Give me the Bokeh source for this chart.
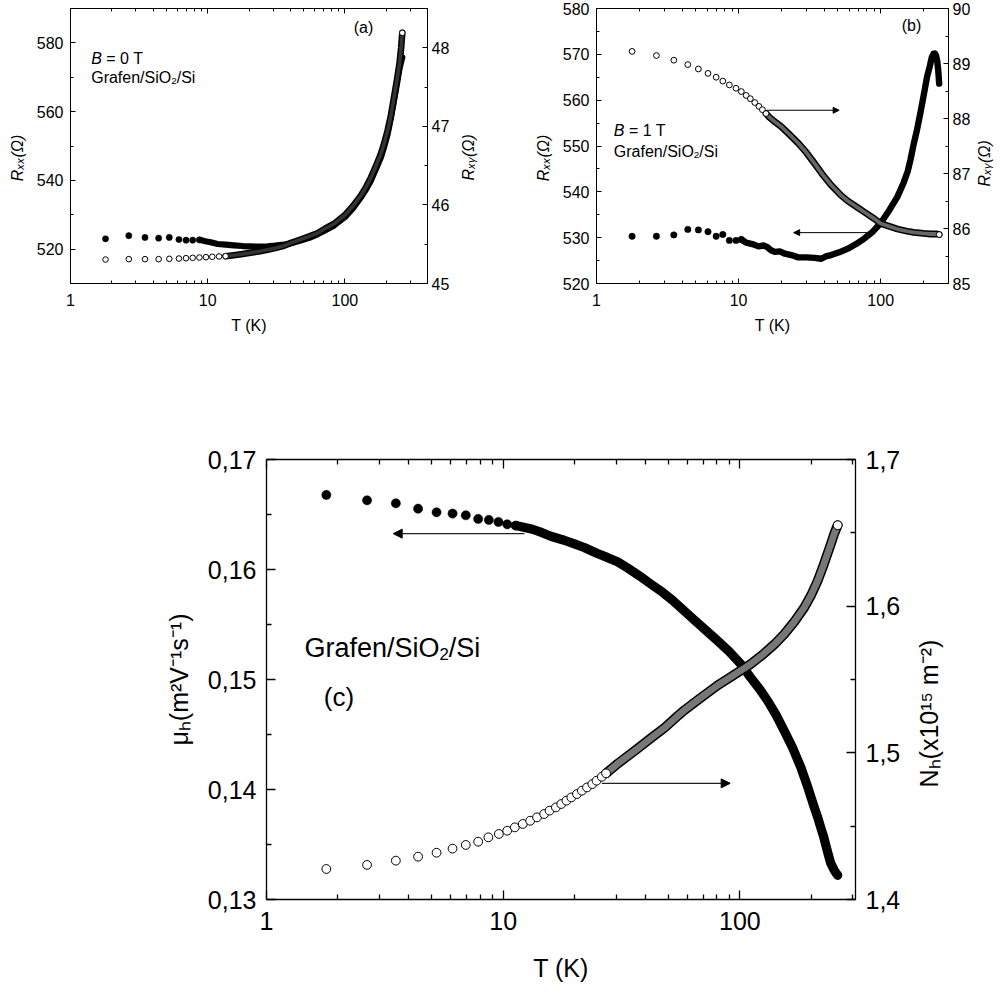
import math
from bokeh.plotting import figure
from bokeh.models import (Range1d, LinearAxis, LogAxis, FixedTicker, CustomJSTickFormatter,
                          Label, Arrow, NormalHead)
from bokeh.layouts import column, row
from bokeh.embed import file_html
from bokeh.resources import INLINE

FONT = "Liberation Sans"

# ---------------- tick values and axis titles ----------------
X_TICKS = [1, 10, 100]
X_MINOR = [2, 3, 4, 5, 6, 7, 8, 9, 20, 30, 40, 50, 60, 70, 80, 90, 200, 300, 400]
X_LABELS = ["1", "10", "100"]
A_LEFT_TICKS = [520, 540, 560, 580]
A_LEFT_MINOR = [510, 530, 550, 570, 590]
A_RIGHT_TICKS = [45, 46, 47, 48]
A_RIGHT_MINOR = [45.5, 46.5, 47.5]
B_LEFT_TICKS = [520, 530, 540, 550, 560, 570, 580]
B_LEFT_MINOR = [525, 535, 545, 555, 565, 575]
B_RIGHT_TICKS = [85, 86, 87, 88, 89, 90]
B_RIGHT_MINOR = [85.5, 86.5, 87.5, 88.5, 89.5]
C_LEFT_TICKS = [0.13, 0.14, 0.15, 0.16, 0.17]
C_LEFT_MINOR = [0.135, 0.145, 0.155, 0.165]
C_RIGHT_TICKS = [1.4, 1.5, 1.6, 1.7]
C_RIGHT_MINOR = [1.45, 1.55, 1.65]

X_TITLE = "T (K)"
RXX_TITLE = "Rₓₓ(Ω)"
RXY_TITLE = "Rₓᵧ(Ω)"
MU_TITLE = "μₕ(m²V⁻¹s⁻¹)"
NH_TITLE = "Nₕ(x10¹⁵ m⁻²)"

# ---------------- panel (a): B = 0 T ----------------
A_T_XX_PTS = [1.80, 2.66, 3.49, 4.39, 5.25, 6.17, 6.95, 7.77, 8.70]
A_RXX_PTS = [523.0, 523.9, 523.4, 523.2, 523.4, 522.8, 522.6, 522.6, 522.7]
A_T_XX_BAND = [8.7, 9.6, 10.5, 11.8, 13.5, 15.5, 18.0, 20.5, 24.0, 27.3, 31.0, 36.0, 41.0, 47.5,
               55.0, 63.0, 72.0, 83.5, 100, 115, 131, 143, 155, 168, 183, 194, 205, 216, 228,
               240, 250, 257, 262]
A_RXX_BAND = [522.7, 522.3, 522.0, 521.5, 521.3, 521.1, 520.9, 520.8, 520.7, 520.8, 521.0, 521.3,
              521.8, 522.5, 523.3, 524.3, 525.5, 526.9, 529.3, 532.0, 535.1, 537.5, 540.0, 543.2,
              546.7, 550.0, 553.5, 558.0, 563.2, 568.3, 572.5, 574.5, 575.8]
A_T_XY_PTS = [1.80, 2.66, 3.49, 4.39, 5.25, 6.17, 6.95, 7.77, 8.70, 9.72, 10.8, 12.1, 13.5]
A_RXY_PTS = [45.305, 45.31, 45.31, 45.31, 45.314, 45.318, 45.322, 45.327, 45.331, 45.335, 45.34,
             45.344, 45.348]
A_T_XY_BAND = [13.5, 15.5, 18.0, 20.5, 24.0, 27.3, 31.0, 36.0, 41.0, 47.5, 55.0, 63.0, 72.0, 83.5,
               100, 115, 131, 143, 155, 168, 183, 194, 205, 216, 228, 240, 250, 257, 262]
A_RXY_BAND = [45.348, 45.36, 45.375, 45.39, 45.41, 45.43, 45.45, 45.48, 45.52, 45.56, 45.60, 45.64,
              45.70, 45.76, 45.87, 45.99, 46.12, 46.23, 46.35, 46.49, 46.65, 46.79, 46.95, 47.13,
              47.37, 47.60, 47.80, 48.00, 48.19]

# ---------------- panel (b): B = 1 T ----------------
B_T_XX_PTS = [1.78, 2.64, 3.50, 4.39, 5.21, 6.09, 6.95, 7.74, 8.61, 9.59, 10.45]
B_RXX_PTS = [530.3, 530.3, 530.6, 531.8, 531.7, 531.3, 530.3, 530.7, 529.4, 529.4, 529.6]
B_T_XX_BAND = [10.45, 11.3, 12.5, 13.8, 15.0, 15.8, 17.0, 18.0, 19.5, 21.2, 23.5, 26.3, 30.0, 34.3,
               38.2, 41.0, 44.8, 51.0, 58.7, 67.0, 76.6, 88.0, 100, 115, 131, 145, 155, 162, 171,
               180, 190, 200, 212, 222, 229, 235, 240, 245, 250, 254, 258]
B_RXX_BAND = [529.6, 528.9, 528.6, 528.1, 528.3, 528.0, 527.2, 526.9, 527.0, 526.5, 526.2, 525.7,
              525.7, 525.6, 525.4, 525.9, 526.2, 526.8, 527.6, 528.6, 529.8, 531.3, 533.2, 536.0,
              538.9, 542.0, 544.5, 547.0, 550.5, 553.5, 557.1, 560.8, 565.1, 567.5, 569.4, 570.1,
              570.2, 569.8, 568.5, 566.5, 563.6]
B_T_XY_PTS = [1.78, 2.64, 3.50, 4.39, 5.21, 6.09, 6.95, 7.74, 8.61, 9.59, 10.45, 11.3, 12.1, 13.0,
              13.9, 14.7, 15.6]
B_RXY_PTS = [89.22, 89.145, 89.06, 88.98, 88.90, 88.82, 88.75, 88.68, 88.61, 88.55, 88.49, 88.42,
             88.36, 88.29, 88.22, 88.16, 88.09]
B_T_XY_BAND = [15.6, 16.5, 18.0, 20.0, 23.0, 26.3, 30.0, 34.3, 39.0, 44.8, 52.7, 58.7, 68.9, 76.6,
               89.9, 100, 117.5, 131, 153.8, 171, 201, 224, 249, 258]
B_RXY_BAND = [88.09, 88.02, 87.94, 87.85, 87.70, 87.55, 87.38, 87.18, 86.98, 86.79, 86.60, 86.50,
              86.38, 86.30, 86.18, 86.09, 86.03, 85.99, 85.95, 85.93, 85.91, 85.90, 85.90, 85.89]

# ---------------- panel (c): mobility and carrier density ----------------
C_T_MU_PTS = [1.79, 2.66, 3.52, 4.37, 5.23, 6.11, 6.95, 7.84, 8.70, 9.55, 10.4, 11.3]
C_MU_PTS = [0.16678, 0.16629, 0.16602, 0.16553, 0.16520, 0.16508, 0.16493, 0.16460, 0.16451,
            0.16432, 0.16411, 0.16399]
C_T_MU_BAND = [11.3, 12.2, 13.3, 14.6, 16.0, 18.1, 20.0, 22.0, 25.0, 27.5, 30.4, 33.5, 37.5, 42.1,
               47.0, 52.0, 58.2, 65.0, 72.0, 80.5, 90.0, 101, 111, 121, 131, 142, 154, 167, 181,
               193, 206, 213, 220, 226, 231, 237, 242, 250, 255, 259]
C_MU_BAND = [0.16399, 0.16385, 0.16366, 0.16335, 0.16300, 0.16266, 0.16233, 0.16200, 0.16145,
             0.16110, 0.16070, 0.16015, 0.15945, 0.15867, 0.15795, 0.15720, 0.15624, 0.15530,
             0.15445, 0.15352, 0.15255, 0.15140, 0.15018, 0.14915, 0.14807, 0.14680, 0.14534,
             0.14380, 0.14201, 0.14030, 0.13840, 0.13750, 0.13650, 0.13570, 0.13490, 0.13400,
             0.13330, 0.13270, 0.13240, 0.13220]
C_T_NH_PTS = [1.79, 2.66, 3.52, 4.37, 5.23, 6.11, 6.95, 7.84, 8.66, 9.59, 10.4, 11.2, 12.1, 13.0,
              13.9, 14.9, 15.7, 16.7, 17.6, 18.5, 19.4, 20.5, 21.5, 22.6, 23.8, 24.8, 26.1, 27.2]
C_NH_PTS = [1.4208, 1.4236, 1.4265, 1.4292, 1.4319, 1.4347, 1.4372, 1.4394, 1.4424, 1.4447,
            1.4469, 1.4492, 1.4515, 1.4537, 1.4560, 1.4583, 1.4606, 1.4628, 1.4651, 1.4674,
            1.4696, 1.4719, 1.4742, 1.4764, 1.4787, 1.4810, 1.4837, 1.4860]
C_T_NH_BAND = [27.2, 30.4, 36.7, 42.1, 48.0, 54.9, 58.2, 67.0, 80.5, 92.0, 104, 111, 125, 140,
               154, 170, 187, 200, 213, 224, 235, 243, 250, 255, 259]
C_NH_BAND = [1.4860, 1.4925, 1.5025, 1.5100, 1.5170, 1.5255, 1.5290, 1.5365, 1.5460, 1.5520,
             1.5575, 1.5605, 1.5670, 1.5740, 1.5809, 1.5895, 1.5990, 1.6075, 1.6172, 1.6265,
             1.6361, 1.6430, 1.6490, 1.6525, 1.6552]

# ---------------- helpers ----------------
W = {' ': 278, '(': 333, ')': 333, '/': 278, ',': 278, '=': 584, '-': 333, '.': 278,
     'B': 667, 'G': 778, 'H': 722, 'K': 667, 'N': 722, 'O': 778, 'R': 722, 'S': 667, 'T': 611,
     'V': 667, 'a': 556, 'b': 556, 'c': 500, 'e': 556, 'f': 278, 'i': 222, 'm': 833, 'n': 556,
     'r': 333, 's': 500, 'x': 500, 'y': 500}
for _d in "0123456789":
    W[_d] = 556


def tw(s, fs):
    return sum(W.get(c, 556) for c in s) * fs / 1000.0


def rich(p, pieces, x, y, fs):
    """horizontal run of text pieces, x/y = canvas position of the baseline start"""
    pos = 0.0
    for txt, style, kind in pieces:
        f = fs * 0.62 if kind in ("sub", "sup") else fs
        sh = 0.22 * fs if kind == "sub" else (-0.40 * fs if kind == "sup" else 0.0)
        stripped = txt.lstrip(" ")
        pos += tw(txt[:len(txt) - len(stripped)], f)
        p.add_layout(Label(x=x + pos, y=y + sh, x_units="canvas", y_units="canvas", text=stripped,
                           text_font=FONT, text_font_size=f"{f:.1f}px", text_font_style=style,
                           text_baseline="alphabetic", text_align="left", text_color="black"))
        pos += tw(stripped, f)


def side_title(p, text, x, y, fs, italic=False):
    """vertical title (reading upwards) placed in the right side panel, canvas coordinates"""
    p.add_layout(Label(x=x, y=y, x_units="canvas", y_units="canvas", text=text, angle=math.pi / 2,
                       text_font=FONT, text_font_size=f"{fs}px",
                       text_font_style="italic" if italic else "normal",
                       text_baseline="alphabetic", text_align="left", text_color="black"), "right")


def style(ax, fs, tin, minin, standoff, lw=1.0, labels=True):
    ax.axis_line_color = "black"
    ax.axis_line_width = lw
    ax.major_tick_line_color = "black"
    ax.major_tick_line_width = lw
    ax.minor_tick_line_color = "black"
    ax.minor_tick_line_width = lw
    ax.major_tick_in = tin
    ax.major_tick_out = 0
    ax.minor_tick_in = minin
    ax.minor_tick_out = 0
    ax.major_label_standoff = standoff
    ax.major_label_text_font = FONT
    if labels:
        ax.major_label_text_color = "black"
        ax.major_label_text_font_size = f"{fs}px"
    else:
        ax.major_label_text_alpha = 0.0
        ax.major_label_text_font_size = "2px"


def title(ax, text, fs, standoff, italic=False, pad=""):
    ax.axis_label = text + pad
    ax.axis_label_text_font = FONT
    ax.axis_label_text_font_size = f"{fs}px"
    ax.axis_label_text_font_style = "italic" if italic else "normal"
    ax.axis_label_text_color = "black"
    ax.axis_label_standoff = standoff


def base_fig(width, height, xr, yr, bl, br, bt, bb):
    p = figure(width=width, height=height, x_axis_type="log",
               x_range=Range1d(*xr), y_range=Range1d(*yr),
               output_backend="svg", toolbar_location=None,
               min_border_left=bl, min_border_right=br, min_border_top=bt, min_border_bottom=bb)
    p.grid.visible = False
    p.outline_line_color = "black"
    p.outline_line_width = 1
    p.background_fill_color = "white"
    p.border_fill_color = "white"
    return p


xfmt = "var labs = %s; var tk = %s; var i = tk.indexOf(tick); return i >= 0 ? labs[i] : String(tick);" % (
    str(X_LABELS).replace("'", '"'), str(X_TICKS))


def setup_axes(p, fs, lt, lm, rt, rm, rrange, left_fmt=None, right_fmt=None, big=False, lw=1.0):
    p.extra_y_ranges = {"r": Range1d(*rrange)}
    if big:
        tin, min_, st_b, st_l, st_r = 9, 5, 12, 10, 10
    else:
        tin, min_, st_b, st_l, st_r = 5, 3, 10, 7, 4
    xa = p.xaxis[0]
    xa.ticker = FixedTicker(ticks=X_TICKS, minor_ticks=X_MINOR)
    xa.formatter = CustomJSTickFormatter(code=xfmt)
    style(xa, fs, tin, min_, st_b, lw)
    top = LogAxis(ticker=FixedTicker(ticks=X_TICKS, minor_ticks=X_MINOR))
    style(top, 2, tin, min_, 0, lw, labels=False)
    p.add_layout(top, "above")
    ya = p.yaxis[0]
    ya.ticker = FixedTicker(ticks=lt, minor_ticks=lm)
    if left_fmt:
        ya.formatter = CustomJSTickFormatter(code=left_fmt)
    style(ya, fs, tin, min_, st_l, lw)
    ra = LinearAxis(y_range_name="r", ticker=FixedTicker(ticks=rt, minor_ticks=rm))
    if right_fmt:
        ra.formatter = CustomJSTickFormatter(code=right_fmt)
    style(ra, fs, tin, min_, st_r, lw)
    p.add_layout(ra, "right")
    return xa, ya, ra


def draw_filled(p, Tp, Vp, Tb, Vb, size, rname="default"):
    p.line(Tb, Vb, line_width=size, line_color="black", line_cap="round", line_join="round",
           y_range_name=rname)
    p.scatter(Tp, Vp, size=size, marker="circle", fill_color="black", line_color="black",
              line_width=0.5, y_range_name=rname)


def draw_open(p, Tp, Vp, Tb, Vb, size, core, rname="default"):
    p.line(Tb, Vb, line_width=size + 1, line_color="black", line_cap="round", line_join="round",
           y_range_name=rname)
    p.line(Tb, Vb, line_width=size - 2, line_color=core, line_cap="round", line_join="round",
           y_range_name=rname)
    p.scatter(Tp, Vp, size=size, marker="circle", fill_color="white", line_color="black",
              line_width=1, y_range_name=rname)
    p.scatter(Tb[-1:], Vb[-1:], size=size, marker="circle", fill_color="white",
              line_color="black", line_width=1, y_range_name=rname)


EM, EN = "\u2003", "\u2002"

# ---------------- panel (a) ----------------
pa = base_fig(531, 345, (1, 400), (510, 590), 70, 104, 8, 62)
xa, ya, ra = setup_axes(pa, 16, A_LEFT_TICKS, A_LEFT_MINOR, A_RIGHT_TICKS, A_RIGHT_MINOR, (45, 48.5))
title(xa, X_TITLE, 16, 8)
title(ya, RXX_TITLE, 16, 8, italic=True, pad=EM + EN)
side_title(pa, RXY_TITLE, 467.5, 180, 16, italic=True)
draw_filled(pa, A_T_XX_PTS, A_RXX_PTS, A_T_XX_BAND, A_RXX_BAND, 6.2)
draw_open(pa, A_T_XY_PTS, A_RXY_PTS, A_T_XY_BAND, A_RXY_BAND, 5.6, "#333333", "r")
pa.add_layout(Label(x=363, y=26.5, x_units="canvas", y_units="canvas", text="(a)",
                    text_font=FONT, text_font_size="16px", text_align="center",
                    text_baseline="middle", text_color="black"))
rich(pa, [("B", "italic", "n"), (" = 0 T", "normal", "n")], 90.7, 58.3, 16)
rich(pa, [("Grafen/SiO", "normal", "n"), ("2", "normal", "sub"), ("/Si", "normal", "n")], 90.7, 77.3, 16)

# ---------------- panel (b) ----------------
pb = base_fig(469, 345, (1, 300), (520, 580), 62, 52, 8, 62)
xb, yb, rb = setup_axes(pb, 16, B_LEFT_TICKS, B_LEFT_MINOR, B_RIGHT_TICKS, B_RIGHT_MINOR, (85, 90))
title(xb, X_TITLE, 16, 8)
title(yb, RXX_TITLE, 16, 8, italic=True, pad=EM + EN)
side_title(pb, RXY_TITLE, 453, 186, 16, italic=True)
draw_filled(pb, B_T_XX_PTS, B_RXX_PTS, B_T_XX_BAND, B_RXX_BAND, 6.4)
draw_open(pb, B_T_XY_PTS, B_RXY_PTS, B_T_XY_BAND, B_RXY_BAND, 5.8, "#666666", "r")
pb.add_layout(Arrow(end=NormalHead(size=6, fill_color="black", line_color="black", line_width=1),
                    x_start=15.8, y_start=88.15, x_end=51, y_end=88.15,
                    line_color="black", line_width=1, y_range_name="r"))
pb.add_layout(Arrow(end=NormalHead(size=6, fill_color="black", line_color="black", line_width=1),
                    x_start=81.3, y_start=531.1, x_end=24.4, y_end=531.1,
                    line_color="black", line_width=1))
pb.add_layout(Label(x=380, y=25, x_units="canvas", y_units="canvas", text="(b)",
                    text_font=FONT, text_font_size="16px", text_align="center",
                    text_baseline="middle", text_color="black"))
rich(pb, [("B", "italic", "n"), (" = 1 T", "normal", "n")], 82.3, 130, 16)
rich(pb, [("Grafen/SiO", "normal", "n"), ("2", "normal", "sub"), ("/Si", "normal", "n")], 82.3, 150.7, 16)

# ---------------- panel (c) ----------------
pc = base_fig(965, 648, (1, 308), (0.13, 0.17), 266, 110, 114, 94)
xc, yc, rc = setup_axes(pc, 25, C_LEFT_TICKS, C_LEFT_MINOR, C_RIGHT_TICKS, C_RIGHT_MINOR, (1.4, 1.7),
                        left_fmt="return tick.toFixed(2).replace('.', ',');",
                        right_fmt="return tick.toFixed(1).replace('.', ',');", big=True, lw=1.3)
title(xc, X_TITLE, 25, 21)
title(yc, MU_TITLE, 25, 12)
side_title(pc, NH_TITLE, 928, 442, 25)
draw_filled(pc, C_T_MU_PTS, C_MU_PTS, C_T_MU_BAND, C_MU_BAND, 9.2)
draw_open(pc, C_T_NH_PTS, C_NH_PTS, C_T_NH_BAND, C_NH_BAND, 8.8, "#777777", "r")
pc.add_layout(Arrow(end=NormalHead(size=9, fill_color="black", line_color="black", line_width=1),
                    x_start=12.3, y_start=0.16326, x_end=3.43, y_end=0.16326,
                    line_color="#222222", line_width=1.2))
pc.add_layout(Arrow(end=NormalHead(size=9, fill_color="black", line_color="black", line_width=1),
                    x_start=26.1, y_start=1.4792, x_end=91, y_end=1.4792,
                    line_color="#222222", line_width=1.2, y_range_name="r"))
rich(pc, [("Grafen/SiO", "normal", "n"), ("2", "normal", "sub"), ("/Si", "normal", "n")], 304, 302.3, 27)
pc.add_layout(Label(x=323.3, y=351, x_units="canvas", y_units="canvas", text="(c)",
                    text_font=FONT, text_font_size="26px", text_align="left",
                    text_baseline="middle", text_color="black"))

layout = column(row(pa, pb, spacing=0), pc, spacing=0)
open("out.html", "w").write(file_html(layout, INLINE, title="Grafen/SiO2/Si"))
